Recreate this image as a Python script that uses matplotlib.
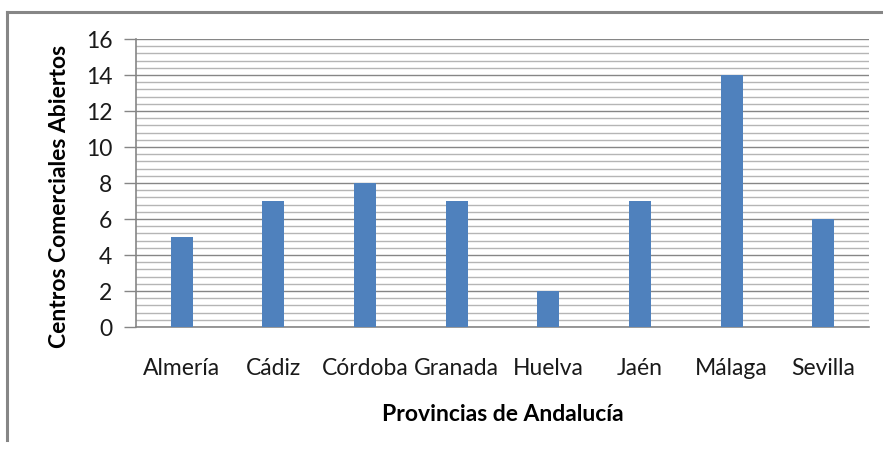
import matplotlib
matplotlib.use("Agg")
import matplotlib.pyplot as plt
import numpy as np
from matplotlib.ticker import MultipleLocator
from matplotlib.lines import Line2D

provincias = ["Almería", "Cádiz", "Córdoba", "Granada", "Huelva", "Jaén", "Málaga", "Sevilla"]
centros = [5, 7, 8, 7, 2, 7, 14, 6]
y_ticks = [0, 2, 4, 6, 8, 10, 12, 14, 16]

plt.rcParams['font.family'] = ['Lato', 'DejaVu Sans']

fig = plt.figure(figsize=(8.83, 4.5), dpi=100)
ax = fig.add_axes([136/883, 1-327/450, (869-136)/883, (327-39)/450])

x = np.arange(len(provincias))
ax.bar(x, centros, width=0.24, color="#4f81bd", zorder=3)

ax.set_xlim(-0.5, len(provincias) - 0.5)
ax.set_ylim(0, 16)
ax.set_yticks(y_ticks)
ax.yaxis.set_minor_locator(MultipleLocator(0.4))
ax.set_xticks(x)
ax.set_xticklabels(provincias)

ax.grid(axis='y', which='major', color='#868686', linewidth=1.0, zorder=0)
ax.grid(axis='y', which='minor', color='#b5b5b5', linewidth=1.0, zorder=0)
ax.set_axisbelow(True)

for s in ['top', 'right']:
    ax.spines[s].set_visible(False)
for s in ['left', 'bottom']:
    ax.spines[s].set_color('#868686')
    ax.spines[s].set_linewidth(1.2)

ax.tick_params(axis='y', which='major', length=9, width=1, color='#868686',
               labelsize=16.5, pad=8, labelcolor='#1a1a1a')
ax.tick_params(axis='y', which='minor', length=0)
ax.tick_params(axis='x', length=0, labelsize=16.5, pad=22, labelcolor='#1a1a1a')

ax.set_xlabel("Provincias de Andalucía", fontsize=16.5, fontweight='bold', labelpad=18)
ax.set_ylabel("Centros Comerciales Abiertos", fontsize=16.5, fontweight='bold')
ax.yaxis.set_label_coords(-0.09, 0.452)

# outer chart frame (partially visible)
fig.add_artist(Line2D([7/883, 7/883], [1-12/450, 1-440/450], color='#868686', linewidth=2.2,
                      transform=fig.transFigure))
fig.add_artist(Line2D([7/883, 1.0], [1-12/450, 1-12/450], color='#868686', linewidth=2.2,
                      transform=fig.transFigure))

fig.savefig("out.png", dpi=100)
